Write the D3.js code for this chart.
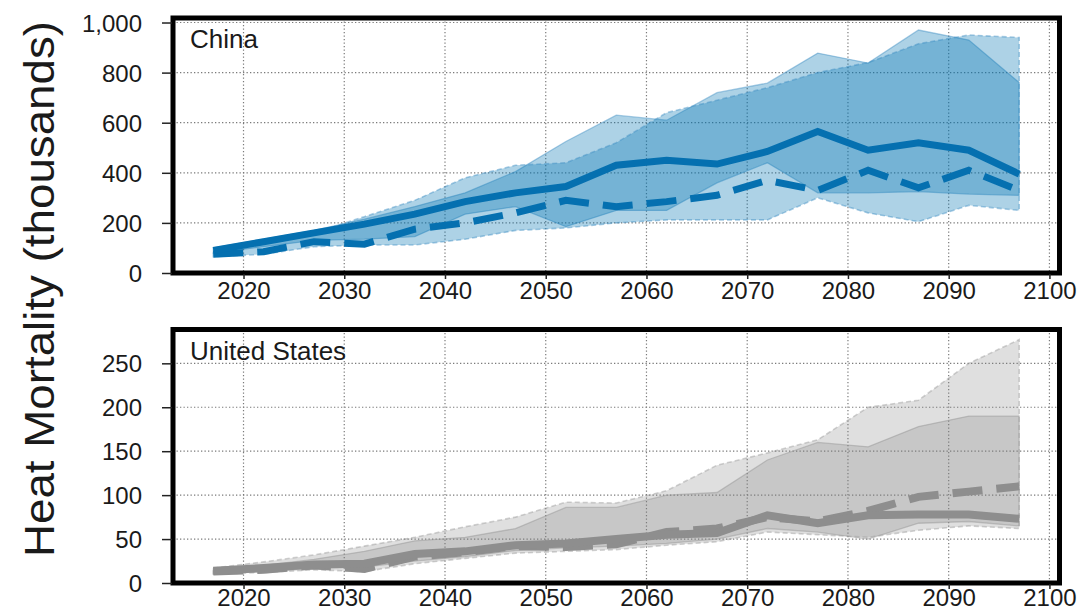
<!DOCTYPE html>
<html>
<head>
<meta charset="utf-8">
<script src="https://cdn.jsdelivr.net/npm/d3@7"></script>
<style>
  body { margin: 0; background: #fff; }
  text { font-family: "Liberation Sans", Arial, Helvetica, sans-serif; fill: #1a1a1a; }
</style>
</head>
<body>
<div id="chart"></div>
<script>
// data (thousands of deaths)
var years = [2017, 2022, 2027, 2032, 2037, 2042, 2047, 2052, 2057, 2062, 2067, 2072, 2077, 2082, 2087, 2092, 2097];

var chinaSolid   = [90, 125, 160, 195, 235, 285, 320, 345, 430, 450, 435, 485, 565, 490, 520, 490, 395];
var chinaDashed  = [75, 85, 125, 115, 175, 200, 240, 290, 265, 285, 310, 370, 330, 410, 340, 410, 330];
var chinaSolidHi = [100, 135, 170, 215, 265, 320, 405, 525, 630, 610, 720, 758, 878, 838, 970, 930, 760];
var chinaSolidLo = [80, 105, 130, 135, 145, 235, 265, 185, 250, 250, 360, 440, 320, 320, 325, 315, 310];
var chinaDashHi  = [90, 120, 160, 225, 290, 380, 430, 440, 520, 640, 690, 740, 800, 840, 915, 950, 940];
var chinaDashLo  = [65, 75, 105, 112, 112, 135, 170, 180, 200, 212, 212, 212, 300, 240, 205, 270, 250];

var usSolid   = [14, 17, 21, 22, 33, 36, 43, 45, 50, 55, 57, 77, 68, 77, 78, 78, 73];
var usDashed  = [13, 15, 20, 16, 30, 35, 42, 41, 44, 58, 62, 75, 70, 82, 98, 104, 110];
var usSolidHi = [16, 20, 27, 36, 48, 52, 62, 86, 86, 100, 103, 140, 160, 155, 178, 190, 190];
var usSolidLo = [11, 13, 17, 18, 25, 30, 37, 40, 42, 45, 50, 62, 58, 50, 68, 70, 65];
var usDashHi  = [17, 24, 32, 42, 52, 64, 75, 92, 91, 105, 134, 148, 163, 200, 208, 250, 277];
var usDashLo  = [10, 12, 15, 13, 22, 28, 34, 36, 38, 43, 47, 58, 55, 52, 60, 65, 62];

var xTicks = [2020, 2030, 2040, 2050, 2060, 2070, 2080, 2090, 2100];
var chinaTicks = [0, 200, 400, 600, 800, 1000];
var usTicks = [0, 50, 100, 150, 200, 250];

var svgWidth = 1091, svgHeight = 610;

var svg = d3.select("#chart").append("svg")
    .attr("width", svgWidth)
    .attr("height", svgHeight);

// shared x scale
var xScale = d3.scaleLinear()
    .domain([2013, 2101])
    .range([173, 1059.5]);

var panels = [
  { name: "China", top: 18, bottom: 273, ymax: 1018, ticks: chinaTicks,
    color: "#0570b0", fill: "#0072b2", fillOpacity: 0.32, edgeColor: "#3d8fc4",
    solid: chinaSolid, dashed: chinaDashed,
    sHi: chinaSolidHi, sLo: chinaSolidLo, dHi: chinaDashHi, dLo: chinaDashLo,
    lineWidth: 7, labelPad: 3 },
  { name: "United States", top: 329.5, bottom: 583, ymax: 288.5, ticks: usTicks,
    color: "#8e8e8e", fill: "#7f7f7f", fillOpacity: 0.25, edgeColor: "#999999",
    solid: usSolid, dashed: usDashed,
    sHi: usSolidHi, sLo: usSolidLo, dHi: usDashHi, dLo: usDashLo,
    lineWidth: 8, labelPad: 0 }
];

panels.forEach(function(p, i) {
  var yScale = d3.scaleLinear()
      .domain([0, p.ymax])
      .range([p.bottom, p.top]);

  var g = svg.append("g");

  svg.append("clipPath").attr("id", "clip" + i)
    .append("rect")
      .attr("x", xScale.range()[0])
      .attr("y", p.top)
      .attr("width", xScale.range()[1] - xScale.range()[0])
      .attr("height", p.bottom - p.top);

  // dotted grid
  g.selectAll(".gx").data(xTicks).enter().append("line")
    .attr("x1", d => xScale(d)).attr("x2", d => xScale(d))
    .attr("y1", p.top).attr("y2", p.bottom)
    .attr("stroke", "#7a7a7a").attr("stroke-width", 1.2)
    .attr("stroke-dasharray", "1.3,2.2");

  g.selectAll(".gy").data(p.ticks).enter().append("line")
    .attr("x1", xScale.range()[0]).attr("x2", xScale.range()[1])
    .attr("y1", d => yScale(d)).attr("y2", d => yScale(d))
    .attr("stroke", "#7a7a7a").attr("stroke-width", 1.2)
    .attr("stroke-dasharray", "1.3,2.2");

  var plot = g.append("g").attr("clip-path", "url(#clip" + i + ")");

  var band = function(hi, lo) {
    return d3.area()
      .x((d, j) => xScale(years[j]))
      .y0((d, j) => yScale(lo[j]))
      .y1((d, j) => yScale(hi[j]))(years) + "Z";
  };

  // solid-edged range
  plot.append("path")
    .attr("d", band(p.sHi, p.sLo))
    .attr("fill", p.fill).attr("fill-opacity", p.fillOpacity)
    .attr("stroke", p.edgeColor).attr("stroke-opacity", 0.45)
    .attr("stroke-width", 1.3);

  // dashed-edged range
  plot.append("path")
    .attr("d", band(p.dHi, p.dLo))
    .attr("fill", p.fill).attr("fill-opacity", p.fillOpacity)
    .attr("stroke", p.edgeColor).attr("stroke-opacity", 0.45)
    .attr("stroke-width", 1.6)
    .attr("stroke-dasharray", "5,3");

  var line = function(vals) {
    return d3.line()
      .x((d, j) => xScale(years[j]))
      .y(d => yScale(d))(vals);
  };

  plot.append("path")
    .attr("d", line(p.dashed))
    .attr("fill", "none")
    .attr("stroke", p.color).attr("stroke-width", p.lineWidth)
    .attr("stroke-dasharray", "30,14");

  plot.append("path")
    .attr("d", line(p.solid))
    .attr("fill", "none")
    .attr("stroke", p.color).attr("stroke-width", p.lineWidth);

  // frame
  g.append("rect")
    .attr("x", xScale.range()[0]).attr("y", p.top)
    .attr("width", xScale.range()[1] - xScale.range()[0])
    .attr("height", p.bottom - p.top)
    .attr("fill", "none").attr("stroke", "#000").attr("stroke-width", 5);

  // y axis
  var leftAxis = d3.axisLeft(yScale)
      .tickValues(p.ticks)
      .tickFormat(d3.format(","))
      .tickSize(10)
      .tickPadding(20);

  var ya = g.append("g")
    .attr("transform", `translate(${xScale.range()[0] - 1}, 0)`)
    .call(leftAxis);
  ya.select(".domain").remove();
  ya.selectAll("line").attr("stroke", "#222").attr("stroke-width", 1.5);
  ya.selectAll("text").style("font-size", "24px")
    .style("font-family", "'Liberation Sans', Arial, sans-serif")
    .attr("fill", "#1a1a1a").attr("dy", "0.36em");

  // x axis
  var bottomAxis = d3.axisBottom(xScale)
      .tickValues(xTicks)
      .tickFormat(d3.format("d"))
      .tickSize(5)
      .tickPadding(p.labelPad);

  var xa = g.append("g")
    .attr("transform", `translate(0, ${p.bottom + 1})`)
    .call(bottomAxis);
  xa.select(".domain").remove();
  xa.selectAll("line").attr("stroke", "#222").attr("stroke-width", 1.5);
  xa.selectAll("text").style("font-size", "24px")
    .style("font-family", "'Liberation Sans', Arial, sans-serif")
    .attr("fill", "#1a1a1a");

  // panel label
  g.append("text")
    .attr("x", 190)
    .attr("y", p.top + 30)
    .style("font-size", "26px")
    .text(p.name);
});

// shared y axis title
svg.append("text")
  .attr("transform", "translate(54, 289) rotate(-90)")
  .attr("text-anchor", "middle")
  .attr("textLength", 536)
  .attr("lengthAdjust", "spacingAndGlyphs")
  .style("font-size", "42px")
  .text("Heat Mortality (thousands)");
</script>
</body>
</html>
